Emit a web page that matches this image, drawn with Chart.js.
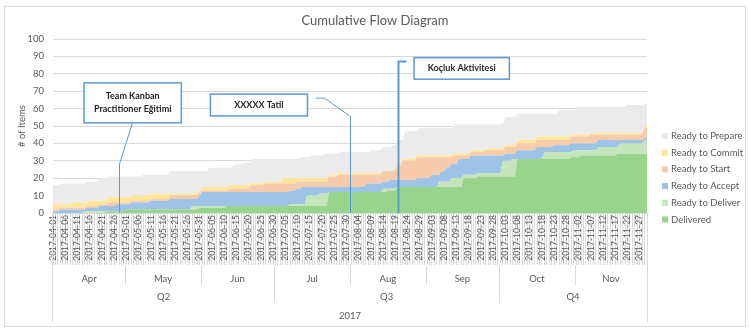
<!DOCTYPE html>
<html>
<head>
<meta charset="utf-8">
<script src="https://cdn.jsdelivr.net/npm/chart.js@4.4.1/dist/chart.umd.min.js"></script>
<style>
  body { margin: 0; background: #fff; }
  #wrap { width: 749px; height: 332px; }
</style>
</head>
<body>
<div id="wrap"><canvas id="cfdChart" width="749" height="332"></canvas></div>
<script>
// daily categories, 2017-04-01 .. 2017-11-30
const startDate = Date.UTC(2017, 3, 1);
const dayCount = 244;
const dates = [];
for (let i = 0; i < dayCount; i++) {
  dates.push(new Date(startDate + i * 86400000).toISOString().slice(0, 10));
}

const months = ['Apr', 'May', 'Jun', 'Jul', 'Aug', 'Sep', 'Oct', 'Nov'];
const monthDays = [30, 31, 30, 31, 31, 30, 31, 30];
const quarters = ['Q2', 'Q3', 'Q4'];
const quarterMonths = [3, 3, 2];
const yearLabel = '2017';

// cumulative counts = top edge of each band, one row per month
const delivered = [
  0,0,0,0,0,0,0,0,0,0, 0,0,0,0,0,0,0,0,0,0, 0,0,1,1,1,1,1,1,1,1,
  2,2,2,2,2,2,2,2,2,2, 2,2,2,2,2,2,2,2,2,2, 2,2,2,2,2,2,2,2,2,2, 3,
  3,3,3,3,3,3,3,3,3,3, 4,4,4,4,4,4,4,4,4,4, 4,4,4,4,4,4,4,4,4,4,
  4,4,4,4,4,4,4,4,4,4, 4,4,4,4,4,4,4,4,4,4, 4,4,12,12,12,12,12,12,12,12,12,
  12,12,12,12,12,12,12,12,12,12, 12,12,12,12,12,13,13,13,13,15, 15,15,15,15,15,15,15,15,15,15, 15,
  15,15,15,15,15,15,15,15,15,15, 15,15,15,15,15,20,20,20,20,20, 20,21,21,21,21,21,21,21,21,21,
  21,21,21,21,21,21,21,31,31,31, 31,31,31,31,31,31,31,31,31,31, 31,31,31,31,31,31,31,31,31,32, 32,
  32,32,33,33,33,33,33,33,33,33, 33,33,33,33,33,33,33,34,34,34, 34,34,34,34,34,34,34,34,34,34
];
const readyToDeliver = [
  0,0,0,0,0,0,0,0,0,0, 0,0,0,1,1,1,1,1,1,1, 1,1,1,1,1,1,1,1,1,1,
  2,2,2,2,2,2,2,2,2,2, 2,2,2,2,2,2,2,2,2,2, 2,2,2,2,2,2,2,4,4,4, 4,
  4,4,4,4,4,4,4,4,4,4, 4,4,4,4,4,4,4,4,4,4, 4,4,4,4,4,4,4,4,4,4,
  4,4,4,4,4,4,5,5,5,5, 5,5,5,10,10,10,10,10,11,11, 11,11,12,12,12,12,12,12,12,12, 12,
  12,12,12,12,12,12,12,12,12,12, 12,12,12,14,14,14,14,14,14,15, 15,15,15,15,15,15,15,15,15,15, 15,
  15,15,15,15,15,18,18,18,18,18, 20,20,20,20,20,22,22,22,22,22, 22,23,23,23,23,23,23,23,23,23,
  23,30,30,30,30,31,31,31,31,31, 31,31,31,31,31,31,31,31,35,35, 35,35,35,35,35,35,35,35,35,35, 36,
  36,36,36,36,36,36,36,36,36,38, 38,38,38,38,38,38,38,38,40,40, 40,40,40,40,40,40,40,40,42,42
];
const readyToAccept = [
  1,1,1,2,2,2,2,2,2,2, 2,2,2,2,3,3,3,3,3,4, 4,4,4,4,4,4,5,5,5,5,
  5,5,6,6,6,6,6,6,6,6, 7,7,7,7,7,7,7,7,8,8, 8,8,8,8,8,8,8,8,8,8, 10,
  12,12,12,12,12,12,12,12,12,12, 12,12,12,12,12,12,12,12,12,12, 12,12,12,12,12,12,12,12,12,12,
  12,12,12,12,12,12,13,13,13,14, 14,15,15,15,15,15,15,15,15,15, 15,15,15,15,15,15,15,15,15,15, 15,
  15,15,15,15,15,15,17,17,17,17, 17,17,17,18,18,18,19,19,19,19, 19,19,19,19,19,19,19,20,20,20, 20,
  20,20,22,22,22,22,24,24,26,26, 28,28,28,31,31,31,31,31,33,33, 33,33,33,33,33,33,33,33,33,33,
  33,33,34,34,34,34,34,36,36,36, 36,36,36,36,36,38,38,38,38,38, 38,38,39,39,39,39,39,39,39,40, 40,
  40,40,40,40,40,40,40,40,40,42, 42,42,42,42,42,42,42,42,42,42, 42,42,42,42,42,42,42,42,43,43
];
const readyToStart = [
  2,2,2,3,3,3,3,3,3,3, 3,3,3,3,4,4,4,4,4,5, 5,5,5,6,6,6,6,6,6,6,
  6,6,7,7,7,7,7,7,7,7, 8,8,8,8,8,8,8,8,10,10, 10,10,10,10,10,10,10,10,10,10, 12,
  13,13,13,13,13,13,13,13,13,13, 13,14,14,14,14,14,14,14,14,14, 16,16,16,16,16,16,17,17,17,17,
  17,17,17,17,17,17,17,17,17,18, 18,18,18,18,18,18,18,18,18,18, 18,18,21,21,21,21,22,22,22,22, 22,
  22,22,22,22,22,22,22,22,22,22, 22,22,22,24,24,24,24,24,24,27, 27,30,30,30,30,30,30,32,32,32, 32,
  32,32,32,32,32,32,32,32,32,32, 32,33,33,33,33,33,33,33,35,35, 35,35,35,35,36,36,36,36,36,36,
  36,36,38,38,38,38,38,40,40,40, 40,40,40,40,40,42,42,42,42,42, 42,42,42,42,42,42,42,42,42,44, 44,
  44,44,44,44,44,44,45,45,45,45, 45,45,45,45,45,45,45,45,45,45, 45,45,45,45,45,45,45,45,49,49
];
const readyToCommit = [
  5,5,5,5,5,5,5,5,6,6, 6,6,6,6,6,7,7,7,7,7, 7,7,7,9,9,9,9,9,9,9,
  9,9,10,10,10,10,10,10,10,10, 11,11,11,11,11,11,11,11,11,11, 11,11,11,11,11,11,11,11,11,11, 13,
  15,15,15,15,15,15,15,15,15,15, 15,16,16,16,16,16,16,16,16,16, 17,17,17,17,17,17,18,18,18,18,
  18,18,18,20,20,20,20,20,20,20, 20,20,20,20,20,20,20,20,20,20, 20,20,22,22,22,22,23,23,23,23, 23,
  23,23,23,23,23,23,23,23,23,23, 23,23,23,23,23,23,23,25,25,28, 28,31,31,31,31,31,31,33,33,33, 33,
  33,33,33,33,33,33,33,33,33,33, 33,34,34,34,34,34,34,34,36,36, 36,36,36,36,37,37,37,37,37,37,
  37,37,39,39,39,39,39,42,42,42, 42,42,42,42,42,44,44,44,44,44, 44,44,44,44,44,44,44,44,44,45, 45,
  45,45,45,45,45,45,46,46,46,46, 46,46,46,46,46,46,46,46,46,46, 46,46,46,46,46,46,46,46,50,50
];
const readyToPrepare = [
  16,16,16,17,17,17,17,17,17,17, 17,17,17,17,18,18,18,18,18,20, 20,20,20,21,21,21,21,21,21,21,
  21,21,21,21,21,21,21,22,22,22, 22,22,22,22,22,22,22,22,24,24, 24,24,24,24,24,24,24,24,24,24, 24,
  24,24,24,26,26,26,26,26,26,26, 26,26,26,28,28,28,28,28,29,29, 31,31,31,31,31,31,31,31,31,31,
  31,31,31,31,31,31,31,31,31,31, 32,32,32,32,32,33,33,33,33,33, 34,34,34,34,34,34,34,35,35,35, 35,
  35,35,35,35,35,35,35,35,36,36, 36,36,36,38,38,38,38,39,39,42, 42,42,47,47,47,47,47,47,49,49, 49,
  49,49,49,49,49,49,49,49,49,49, 49,51,51,51,51,51,51,51,51,51, 51,51,51,51,51,51,51,51,51,51,
  51,51,55,55,55,55,55,57,57,57, 57,57,57,57,57,57,57,57,57,57, 57,57,57,57,59,59,59,59,59,59, 59,
  61,61,61,61,61,61,61,61,61,61, 61,61,61,61,61,61,61,61,61,61, 61,62,62,62,62,62,62,62,63,63
];

const seriesNames = ['Delivered', 'Ready to Deliver', 'Ready to Accept', 'Ready to Start', 'Ready to Commit', 'Ready to Prepare'];
const seriesData = [delivered, readyToDeliver, readyToAccept, readyToStart, readyToCommit, readyToPrepare];
const seriesColors = ['#98D48B', '#C5E5BA', '#9DC3E6', '#F8CBAD', '#FFE699', '#EBEBEB'];

// callouts: box [x0, yTop, x1, yBottom] and leader path in (day index, value)
const notes = [
  { text: ['Team Kanban', 'Practitioner Eğitimi'], box: [12.7, 74.8, 52.5, 51.8],
    path: [[32.3, 51.8], [26.8, 28.1], [26.8, 0]], lw: 1 },
  { text: ['XXXXX Tatil'], box: [64.4, 68.3, 104.1, 55.8],
    path: [[107.3, 66], [110.7, 66], [121.4, 55.4], [121.4, 0]], lw: 1 },
  { text: ['Koçluk Aktivitesi'], box: [147.7, 89.3, 186.7, 76.9],
    path: [[144.5, 87], [141.3, 87], [141.3, 0]], lw: 2 }
];

const FONT = 'Lato, "Open Sans", sans-serif';
const TXT = '#595959';
const LINE = '#D9D9D9';

const extras = {
  id: 'extras',
  afterDraw(chart) {
    const ctx = chart.ctx;
    const xs = chart.scales.x, ys = chart.scales.y, area = chart.chartArea;
    ctx.save();

    // callouts
    notes.forEach(n => {
      ctx.strokeStyle = '#5B9BD5';
      ctx.lineWidth = n.lw;
      ctx.beginPath();
      n.path.forEach((p, i) => {
        const px = Math.round(xs.getPixelForValue(p[0])) + 0.5;
        const py = ys.getPixelForValue(p[1]);
        if (i === 0) ctx.moveTo(px, py); else ctx.lineTo(px, py);
      });
      ctx.stroke();
      const bx0 = xs.getPixelForValue(n.box[0]), bx1 = xs.getPixelForValue(n.box[2]);
      const by0 = ys.getPixelForValue(n.box[1]), by1 = ys.getPixelForValue(n.box[3]);
      ctx.fillStyle = '#fff';
      ctx.fillRect(bx0, by0, bx1 - bx0, by1 - by0);
      ctx.lineWidth = 1.5;
      ctx.strokeRect(bx0, by0, bx1 - bx0, by1 - by0);
      ctx.fillStyle = '#262626';
      ctx.font = 'bold 9px ' + FONT;
      ctx.textAlign = 'center';
      ctx.textBaseline = 'middle';
      const cy = (by0 + by1) / 2, lh = 13;
      n.text.forEach((t, i) => {
        ctx.fillText(t, (bx0 + bx1) / 2, cy + (i - (n.text.length - 1) / 2) * lh);
      });
    });

    // multi-level category axis
    const b = area.bottom;
    const mTop = b + 52, mBot = b + 72, qBot = b + 90, end = b + 109;
    ctx.strokeStyle = LINE;
    ctx.lineWidth = 1;
    const vline = (x, y0, y1) => {
      ctx.beginPath();
      ctx.moveTo(Math.round(x) + 0.5, y0);
      ctx.lineTo(Math.round(x) + 0.5, y1);
      ctx.stroke();
    };
    vline(area.left - 1, b, end);
    vline(area.right, b, end);
    ctx.fillStyle = TXT;
    ctx.font = '9.5px ' + FONT;
    ctx.textAlign = 'center';
    ctx.textBaseline = 'middle';
    const edge = i => Math.min(area.right, Math.max(area.left, xs.getPixelForValue(i - 0.5)));
    let d = 0;
    const monthStart = [];
    months.forEach((m, i) => {
      monthStart.push(d);
      const x0 = edge(d), x1 = edge(d + monthDays[i]);
      if (d > 0) vline(x0, mTop, mBot);
      ctx.fillText(m, (x0 + x1) / 2, mTop + 14);
      d += monthDays[i];
    });
    let mi = 0;
    quarters.forEach((q, i) => {
      const s = monthStart[mi];
      mi += quarterMonths[i];
      const e = mi < months.length ? monthStart[mi] : dayCount;
      const x0 = edge(s), x1 = edge(e);
      if (s > 0) vline(x0, mTop, qBot);
      ctx.fillText(q, (x0 + x1) / 2, mBot + 12);
    });
    ctx.fillText(yearLabel, (area.left + area.right) / 2, qBot + 13);

    // legend
    ctx.textAlign = 'left';
    ctx.font = '9.5px ' + FONT;
    for (let k = 0; k < seriesNames.length; k++) {
      const idx = seriesNames.length - 1 - k;
      const y = 136 + k * 16.7;
      ctx.fillStyle = seriesColors[idx];
      ctx.fillRect(662, y - 3, 6, 6);
      ctx.fillStyle = TXT;
      ctx.fillText(seriesNames[idx], 671, y);
    }

    // title and y title
    ctx.textAlign = 'center';
    ctx.fillStyle = TXT;
    ctx.font = '13px ' + FONT;
    ctx.fillText('Cumulative Flow Diagram', 375, 21);
    ctx.save();
    ctx.translate(22, (area.top + area.bottom) / 2);
    ctx.rotate(-Math.PI / 2);
    ctx.font = '9.5px ' + FONT;
    ctx.fillText('# of Items', 0, 0);
    ctx.restore();

    // outer frame
    ctx.strokeStyle = LINE;
    ctx.strokeRect(4.5, 6.5, 741, 320);
    ctx.restore();
  }
};

const datasets = seriesNames.map((name, i) => ({
  label: name,
  data: seriesData[i],
  backgroundColor: seriesColors[i],
  borderWidth: 0,
  pointRadius: 0,
  tension: 0,
  fill: i === 0 ? 'origin' : '-1'
}));

new Chart(document.getElementById('cfdChart'), {
  type: 'line',
  data: { labels: dates, datasets: datasets },
  options: {
    responsive: false,
    animation: false,
    events: [],
    layout: { padding: { left: 4, top: 39, right: 102, bottom: 67 } },
    plugins: { legend: { display: false }, title: { display: false }, tooltip: { enabled: false } },
    scales: {
      x: {
        grid: { drawOnChartArea: false, tickLength: 52, color: LINE },
        border: { color: LINE },
        ticks: {
          autoSkip: false, minRotation: 90, maxRotation: 90, padding: -50,
          color: TXT, font: { family: FONT, size: 8.5 },
          callback: (v, i) => (i % 5 === 0 ? dates[i] : '')
        },
        afterFit: s => { s.height = 52; }
      },
      y: {
        min: 0, max: 100,
        grid: { color: LINE, drawTicks: false },
        border: { display: false },
        ticks: { stepSize: 10, padding: 9, color: TXT, font: { family: FONT, size: 9.5 } },
        afterFit: s => { s.width = 49; }
      }
    }
  },
  plugins: [extras]
});
</script>
</body>
</html>
